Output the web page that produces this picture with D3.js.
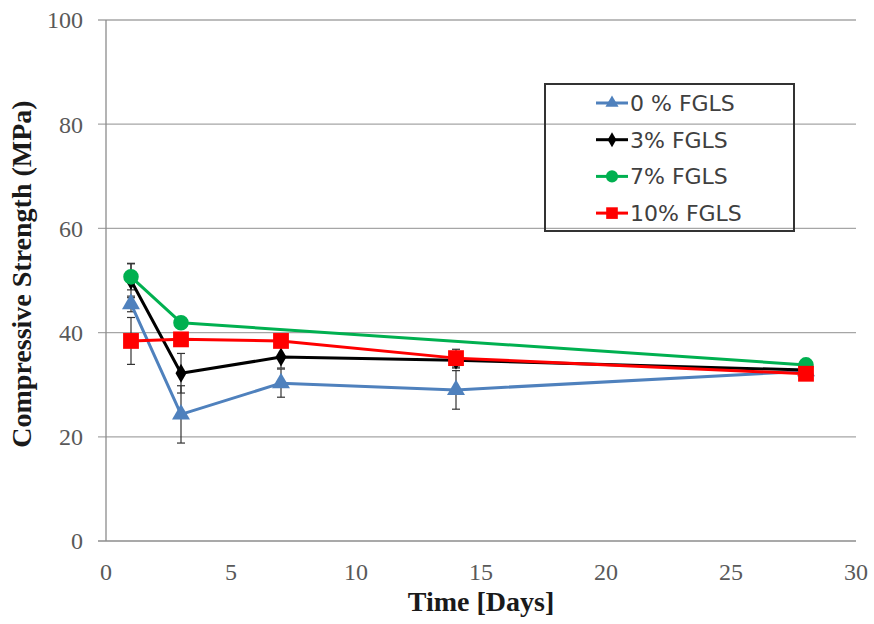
<!DOCTYPE html>
<html><head><meta charset="utf-8">
<script src="https://cdn.jsdelivr.net/npm/d3@7/dist/d3.min.js"></script>
<style>body{margin:0;background:#fff}</style>
</head><body>
<svg id="c" width="874" height="624"></svg>
<script>
const seriesNames = ["0 % FGLS", "3% FGLS", "7% FGLS", "10% FGLS"];
const seriesColors = ["#4F81BD", "#000000", "#00B050", "#FF0000"];
const seriesMarkers = ["triangle", "diamond", "circle", "square"];
const days0 = [1, 3, 7, 14, 28];
const vals0 = [45.5, 24.3, 30.3, 29.0, 32.6];
const err0 = [1.5, 5.5, 2.7, 3.7, 0];
const days3 = [1, 3, 7, 14, 28];
const vals3 = [50.0, 32.2, 35.3, 34.7, 32.8];
const err3 = [3.3, 3.8, 2.1, 1.5, 0];
const days7 = [1, 3, 28];
const vals7 = [50.7, 41.9, 33.8];
const err7 = [2.5, 0.5, 0];
const days10 = [1, 3, 7, 14, 28];
const vals10 = [38.4, 38.7, 38.4, 35.1, 32.1];
const err10 = [4.5, 1.0, 0.8, 1.7, 0];
const xTicks = [0, 5, 10, 15, 20, 25, 30];
const yTicks = [0, 20, 40, 60, 80, 100];

const series = [
  {days: days0, vals: vals0, err: err0},
  {days: days3, vals: vals3, err: err3},
  {days: days7, vals: vals7, err: err7},
  {days: days10, vals: vals10, err: err10}
].map((s, i) => ({...s, name: seriesNames[i], color: seriesColors[i], marker: seriesMarkers[i]}));

const L = 106, R = 856, T = 20, B = 541;
const x = d3.scaleLinear().domain([0, 30]).range([L, R]);
const y = d3.scaleLinear().domain([0, 100]).range([B, T]);
const svg = d3.select("#c");
const serif = "'Liberation Serif','DejaVu Serif',serif";

// gridlines
svg.append("g").selectAll("line").data(yTicks).join("line")
  .attr("x1", L - 8).attr("x2", R).attr("y1", d => y(d)).attr("y2", d => y(d))
  .attr("stroke", d => d === 0 ? "#8c8c8c" : "#a6a6a6").attr("stroke-width", 1.3);
// y axis line
svg.append("line").attr("x1", L).attr("x2", L).attr("y1", y(100)).attr("y2", y(0))
  .attr("stroke", "#8c8c8c").attr("stroke-width", 1.3);

// tick labels
svg.append("g").selectAll("text").data(yTicks).join("text")
  .attr("x", 83).attr("y", d => y(d)).attr("dy", "0.35em").attr("text-anchor", "end")
  .attr("font-family", serif).attr("font-size", 24).attr("fill", "#595959").text(d => d);
svg.append("g").selectAll("text").data(xTicks).join("text")
  .attr("x", d => x(d)).attr("y", 580).attr("text-anchor", "middle")
  .attr("font-family", serif).attr("font-size", 24).attr("fill", "#595959").text(d => d);

// titles
svg.append("text").attr("x", x(15)).attr("y", 611).attr("text-anchor", "middle")
  .attr("font-family", serif).attr("font-weight", "bold").attr("font-size", 28).attr("fill", "#1a1a1a")
  .text("Time [Days]");
svg.append("text").attr("transform", "translate(31,274) rotate(-90)")
  .attr("text-anchor", "middle")
  .attr("font-family", serif).attr("font-weight", "bold").attr("font-size", 28).attr("fill", "#1a1a1a")
  .text("Compressive Strength (MPa)");

// error bars
const eb = svg.append("g").attr("stroke", "#333").attr("stroke-width", 1.2);
series.forEach(s => {
  s.days.forEach((d, i) => {
    const e = s.err[i];
    if (!e) return;
    const cx = x(d), y1 = y(s.vals[i] + e), y2 = y(s.vals[i] - e);
    eb.append("line").attr("x1", cx).attr("x2", cx).attr("y1", y1).attr("y2", y2);
    eb.append("line").attr("x1", cx - 4).attr("x2", cx + 4).attr("y1", y1).attr("y2", y1);
    eb.append("line").attr("x1", cx - 4).attr("x2", cx + 4).attr("y1", y2).attr("y2", y2);
  });
});

const symTypes = {triangle: d3.symbolTriangle, diamond: d3.symbolDiamond, circle: d3.symbolCircle, square: d3.symbolSquare};
const symSizes = {triangle: 140, diamond: 105, circle: 190, square: 250};
const legSizes = {triangle: 75, diamond: 65, circle: 115, square: 135};

const line = d3.line().x(d => x(d[0])).y(d => y(d[1]));
series.forEach(s => {
  const pts = s.days.map((d, i) => [d, s.vals[i]]);
  svg.append("path").attr("d", line(pts)).attr("fill", "none")
    .attr("stroke", s.color).attr("stroke-width", 3).attr("stroke-linejoin", "round");
  svg.append("g").selectAll("path").data(pts).join("path")
    .attr("d", d3.symbol(symTypes[s.marker], symSizes[s.marker])())
    .attr("transform", d => `translate(${x(d[0])},${y(d[1])})`)
    .attr("fill", s.color);
});

// legend
const lg = svg.append("g");
lg.append("rect").attr("x", 545).attr("y", 84).attr("width", 249).attr("height", 147)
  .attr("fill", "none").attr("stroke", "#333").attr("stroke-width", 2);
series.forEach((s, i) => {
  const ly = 103 + i * 36.7;
  lg.append("line").attr("x1", 596).attr("x2", 628).attr("y1", ly).attr("y2", ly)
    .attr("stroke", s.color).attr("stroke-width", 3);
  lg.append("path").attr("d", d3.symbol(symTypes[s.marker], legSizes[s.marker])())
    .attr("transform", `translate(612,${ly})`).attr("fill", s.color);
  lg.append("text").attr("x", 630).attr("y", ly).attr("dy", "0.36em")
    .attr("font-family", "'DejaVu Sans',Verdana,sans-serif").attr("font-size", 22).attr("fill", "#404040")
    .text(s.name);
});
</script>
</body></html>
